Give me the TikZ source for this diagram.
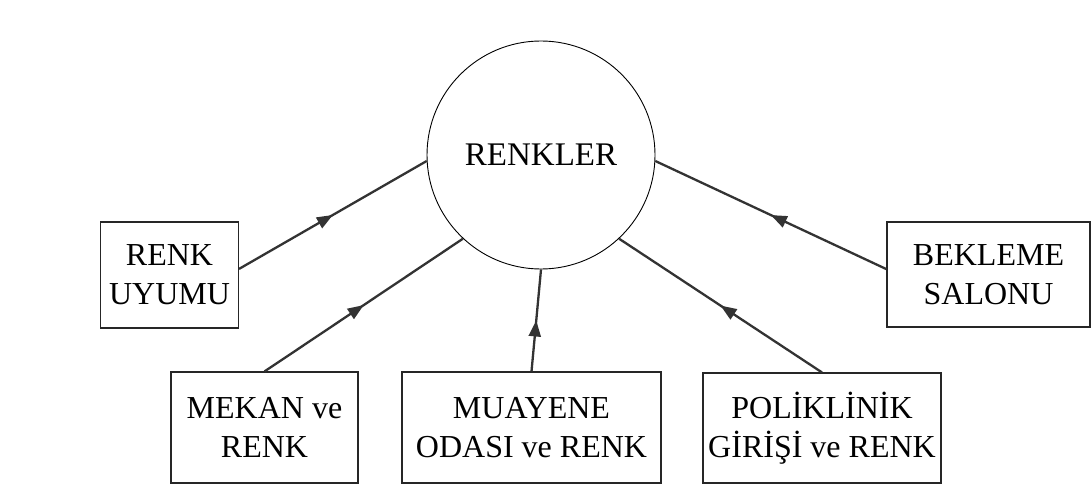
\documentclass[tikz,border=0pt]{standalone}
\usepackage{fontspec}
\setmainfont{Liberation Serif}
\usetikzlibrary{arrows.meta,decorations.markings,positioning}
\definecolor{cizgi}{HTML}{333333}
\tikzstyle{kutu} = [rectangle, draw=black!85, line width=1.1pt, align=center,
inner sep=0pt, font=\fontsize{32}{39}\selectfont]
\tikzstyle{daire} = [circle, draw=black, line width=0.9pt, minimum size=228pt,
inner sep=0pt, font=\fontsize{33}{39}\selectfont]
\tikzstyle{arrow} = [color=cizgi, line width=2.3pt, postaction={decorate},
decoration={markings, mark=at position 0.5 with {\arrow{Triangle[length=16pt,width=12pt]}}}]

\begin{document}
\begin{tikzpicture}[x=1pt,y=1pt]
            \useasboundingbox (0,0) rectangle (1091,488);
            \node[daire] (renkler) at (541,333) {RENKLER};
            \node[kutu, minimum width=138pt, minimum height=106pt] (uyum) at (169.5,213) {RENK\\UYUMU};
            \node[kutu, minimum width=187pt, minimum height=111pt] (mekan) at (264.5,60.5) {MEKAN ve\\RENK};
            \node[kutu, minimum width=259pt, minimum height=111pt] (muayene) at (531.5,60.5) {MUAYENE\\ODASI ve RENK};
            \node[kutu, minimum width=238pt, minimum height=110pt] (poliklinik) at (822,60) {POLİKLİNİK\\GİRİŞİ ve RENK};
            \node[kutu, minimum width=203pt, minimum height=105pt] (bekleme) at (988.5,213.5) {BEKLEME\\SALONU};
            \draw[arrow] (uyum.5) -- (renkler.183);
            \draw[arrow] (mekan.north) -- (renkler.227);
            \draw[arrow] (muayene.north) -- (renkler.270);
            \draw[arrow] (poliklinik.north) -- (renkler.313);
            \draw[arrow] (bekleme.177) -- (renkler.357);
        \end{tikzpicture}
\end{document}
